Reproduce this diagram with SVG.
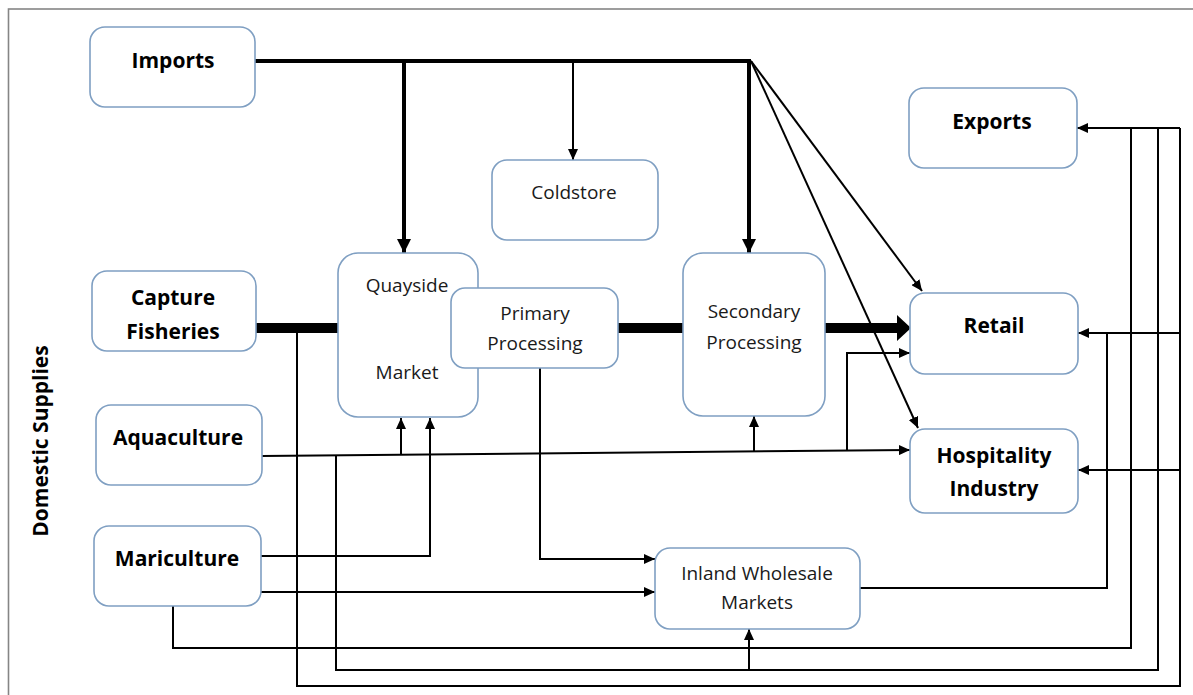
<svg xmlns="http://www.w3.org/2000/svg" width="1193" height="695" viewBox="0 0 1193 695">
  <style>
    .frame { fill: none; stroke: #858585; stroke-width: 1.6; }
    .box { fill: #ffffff; stroke: #7f9fc2; stroke-width: 1.6; }
    .lbl { font-family: "Open Sans", "Liberation Sans", sans-serif; font-size: 19px; fill: #1a1a1a; text-anchor: middle; }
    .bold { font-weight: bold; font-size: 21px; fill: #000000; }
    .ln { fill: none; stroke: #000000; stroke-width: 2; stroke-linejoin: miter; }
    .mid { stroke-width: 4; }
    .heavy { stroke-width: 10; }
    .arr { marker-end: url(#head); }
    .arr-mid { marker-end: url(#head-mid); }
  </style>
  <defs>
    <marker id="head" viewBox="0 0 11 10" refX="11" refY="5" markerWidth="11" markerHeight="10" markerUnits="userSpaceOnUse" orient="auto">
      <path d="M0,0 L11,5 L0,10 z" fill="#000"/>
    </marker>
    <marker id="head-mid" viewBox="0 0 14 14" refX="14" refY="7" markerWidth="14" markerHeight="14" markerUnits="userSpaceOnUse" orient="auto">
      <path d="M0,0 L14,7 L0,14 z" fill="#000"/>
    </marker>
  </defs>

  <rect class="frame" x="8.5" y="9" width="1200" height="710"/>

  <text class="lbl bold" transform="translate(48,441) rotate(-90)" x="0" y="0">Domestic Supplies</text>

  <!-- connectors -->
  <g id="connectors">
    <!-- imports distribution bus -->
    <path class="ln mid" d="M255,61 H751"/>
    <path class="ln mid arr-mid" d="M404,61 V253"/>
    <path class="ln arr" d="M573,61 V160"/>
    <path class="ln mid arr-mid" d="M749,61 V253"/>
    <path class="ln arr" d="M751,61 L922,291"/>
    <path class="ln arr" d="M751,61 L918,428"/>

    <!-- main processing chain -->
    <path class="ln heavy" d="M256,328 H338"/>
    <path class="ln heavy" d="M618,328 H683"/>
    <path class="ln heavy" d="M825,328 H900"/>
    <polygon points="897,315 911,328 897,341" fill="#000"/>

    <!-- aquaculture feed -->
    <path class="ln arr" d="M262,456 L910,450"/>
    <path class="ln arr" d="M401,455 V418"/>
    <path class="ln arr" d="M754,452 V416"/>
    <path class="ln arr" d="M847,451 V353 H910"/>

    <!-- mariculture feeds -->
    <path class="ln arr" d="M261,556 H430 V418"/>
    <path class="ln arr" d="M261,592 H655"/>

    <!-- primary processing to inland markets -->
    <path class="ln arr" d="M540,368 V559 H655"/>

    <!-- return loops to exports -->
    <path class="ln" d="M173,606 V648 H1131 V128"/>
    <path class="ln" d="M336,456 V670 H1158 V128"/>
    <path class="ln" d="M297,328 V686 H1180 V128"/>
    <path class="ln arr" d="M1180,128 H1077"/>
    <path class="ln arr" d="M1180,333 H1078"/>
    <path class="ln arr" d="M1180,470 H1078"/>

    <!-- inland markets links -->
    <path class="ln" d="M860,588 H1107 V333"/>
    <path class="ln arr" d="M749,670 V629"/>
  </g>

  <!-- nodes -->
  <g id="imports">
    <rect class="box" x="90" y="27" width="165" height="80" rx="15"/>
    <text class="lbl bold" x="173" y="68">Imports</text>
  </g>
  <g id="coldstore">
    <rect class="box" x="492" y="160" width="166" height="80" rx="15"/>
    <text class="lbl" x="574" y="199">Coldstore</text>
  </g>
  <g id="exports">
    <rect class="box" x="909" y="88" width="168" height="80" rx="15"/>
    <text class="lbl bold" x="992" y="129">Exports</text>
  </g>
  <g id="capture-fisheries">
    <rect class="box" x="92" y="271" width="164" height="80" rx="15"/>
    <text class="lbl bold" x="173" y="305">Capture</text>
    <text class="lbl bold" x="173" y="339">Fisheries</text>
  </g>
  <g id="quayside-market">
    <rect class="box" x="338" y="253" width="140" height="164" rx="20"/>
    <text class="lbl" x="407" y="292">Quayside</text>
    <text class="lbl" x="407" y="379">Market</text>
  </g>
  <g id="primary-processing">
    <rect class="box" x="451" y="288" width="167" height="80" rx="14"/>
    <text class="lbl" x="535" y="320">Primary</text>
    <text class="lbl" x="535" y="350">Processing</text>
  </g>
  <g id="secondary-processing">
    <rect class="box" x="683" y="253" width="142" height="163" rx="20"/>
    <text class="lbl" x="754" y="318">Secondary</text>
    <text class="lbl" x="754" y="349">Processing</text>
  </g>
  <g id="retail">
    <rect class="box" x="910" y="293" width="168" height="81" rx="15"/>
    <text class="lbl bold" x="994" y="333">Retail</text>
  </g>
  <g id="hospitality-industry">
    <rect class="box" x="910" y="429" width="168" height="84" rx="15"/>
    <text class="lbl bold" x="994" y="463">Hospitality</text>
    <text class="lbl bold" x="994" y="496">Industry</text>
  </g>
  <g id="aquaculture">
    <rect class="box" x="96" y="405" width="166" height="80" rx="15"/>
    <text class="lbl bold" x="178" y="445">Aquaculture</text>
  </g>
  <g id="mariculture">
    <rect class="box" x="94" y="526" width="167" height="80" rx="15"/>
    <text class="lbl bold" x="177" y="566">Mariculture</text>
  </g>
  <g id="inland-wholesale-markets">
    <rect class="box" x="655" y="548" width="205" height="81" rx="15"/>
    <text class="lbl" x="757" y="580">Inland Wholesale</text>
    <text class="lbl" x="757" y="609">Markets</text>
  </g>
</svg>
